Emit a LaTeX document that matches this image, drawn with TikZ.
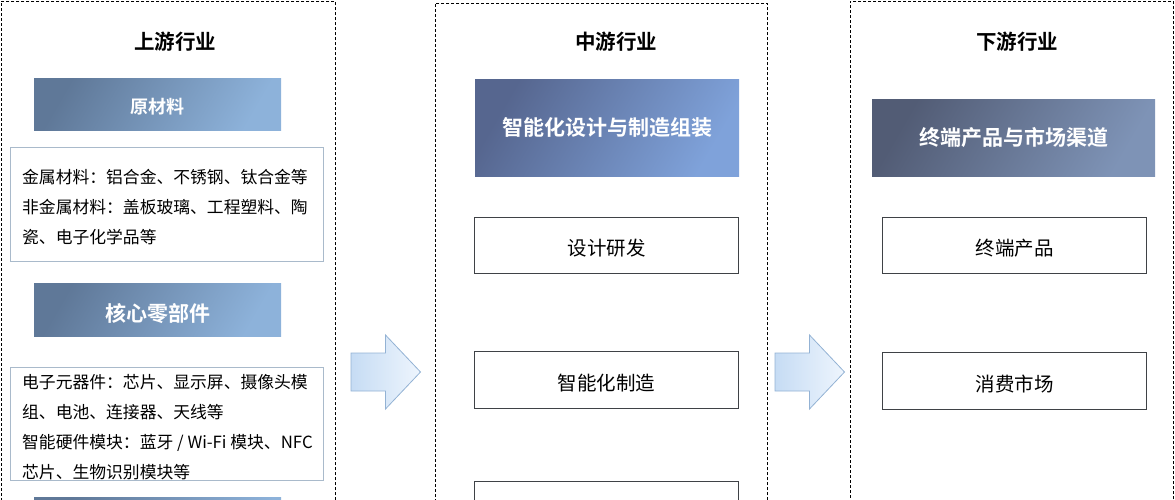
\documentclass[tikz,border=0pt]{standalone}
\usepackage{fontspec}
\setmainfont{Noto Sans CJK SC}[BoldFont={Noto Sans CJK SC Bold}]
\usepackage{tikz}
\usetikzlibrary{calc}
\definecolor{inkgray}{HTML}{3F4246}
\definecolor{boxline}{HTML}{A9BACB}
\definecolor{hdA}{HTML}{5F7898}
\definecolor{hdB}{HTML}{8DB2DA}
\definecolor{midA}{HTML}{56668F}
\definecolor{midB}{HTML}{7FA2DA}
\definecolor{lowA}{HTML}{525C75}
\definecolor{lowB}{HTML}{7E93B6}
\definecolor{arrA}{HTML}{C6DCF4}
\definecolor{arrB}{HTML}{EEF5FD}
\definecolor{arrline}{HTML}{93B2D4}
\newcommand{\bigarrow}[1]{\draw[arrline,line width=0.8pt,left color=arrA,right color=arrB]
  ($(#1)+(-34.5,-19)$) -- ++(34.5,0) -- ++(0,-18) -- ++(35,37) -- ++(-35,37) -- ++(0,-18) -- ++(-34.5,0) -- cycle;}
\tikzset{panel/.style={draw=black,line width=0.9pt,dash pattern=on 3pt off 2pt,anchor=north west,inner sep=0pt,minimum height=540pt},
  title/.style={font=\fontsize{20.5}{24}\selectfont\bfseries},
  head/.style={left color=#1A,right color=#1B,shading angle=60,text=white,anchor=north west,inner sep=0pt,font=\fontsize{21}{24}\selectfont\bfseries},
  plain/.style={draw=inkgray,line width=1.2pt,fill=white,minimum width=264pt,anchor=north west,font=\fontsize{19.5}{24}\selectfont,text height=22pt,text depth=2pt},
  info/.style={draw=boxline,line width=1pt,minimum width=313pt,anchor=north west},
  infotext/.style={align=left,anchor=west,inner sep=0pt,font=\fontsize{16.8}{30}\selectfont}}

\begin{document}
\begin{tikzpicture}[x=1pt,y=-1pt]
\path[use as bounding box,clip] (0,0) rectangle (1175,500);
\node[panel,minimum width=334pt] (upP) at (1,1) {}; \node[panel,minimum width=332pt] (midP) at (435,3) {}; \node[panel,minimum width=323pt] (lowP) at (850,1) {};
\node[title] (upT) at (175,42) {上游行业}; \node[title] (midT) at (616,42) {中游行业}; \node[title] (lowT) at (1017,42) {下游行业};
\node[head=hd,minimum width=247pt,minimum height=52pt,font=\fontsize{18}{22}\selectfont\bfseries,text height=21pt,text depth=2pt] (rawH) at (34,78) {原材料};
\node[info,minimum height=114pt] (rawB) at (10,147) {};
\node[infotext] (rawX) at ($(rawB.west)+(12,3)$) {金属材料：铝合金、不锈钢、钛合金等\\非金属材料：盖板玻璃、工程塑料、陶\\瓷、电子化学品等};
\node[head=hd,minimum width=247pt,minimum height=53pt,text height=26pt,text depth=2pt] (coreH) at (34,283) {核心零部件};
\node[info,minimum height=113pt] (coreB) at (10,367) {};
\node[infotext] (coreX) at ($(coreB.west)+(12,3)$) {电子元器件：芯片、显示屏、摄像头模\\组、电池、连接器、天线等\\智能硬件模块：蓝牙 / Wi-Fi 模块、NFC\\芯片、生物识别模块等};
\node[head=hd,minimum width=247pt,minimum height=53pt] (nextH) at (34,497) {};
\node[head=mid,minimum width=264pt,minimum height=97pt] (midH) at (475,79) {智能化设计与制造组装};
\node[plain,minimum height=56pt] (designB) at (474,217) {设计研发};
\node[plain,minimum height=57pt] (makeB) at (474,351) {智能化制造};
\node[plain,minimum height=56pt] (thirdB) at (474,481) {};
\node[head=low,minimum width=283pt,minimum height=77pt] (lowH) at (872,99) {终端产品与市场渠道};
\node[plain,minimum height=56pt] (prodB) at (882,217) {终端产品};
\node[plain,minimum height=57pt] (consB) at (882,352) {消费市场};
\coordinate (g1) at (385.5,372); \coordinate (g2) at (809.5,372);
\bigarrow{g1} \bigarrow{g2}
\end{tikzpicture}
\end{document}
